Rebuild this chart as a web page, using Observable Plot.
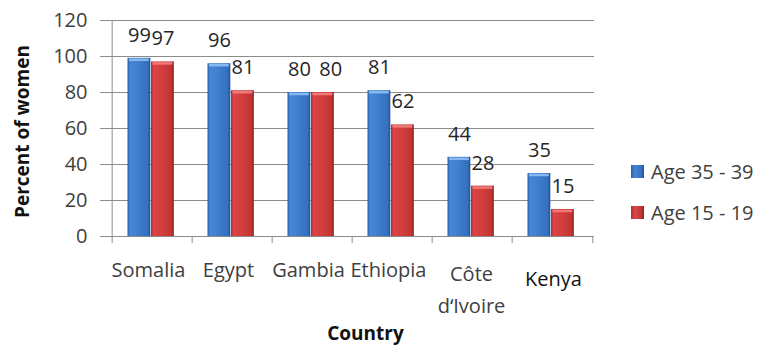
<!DOCTYPE html>
<html>
<head>
<meta charset="utf-8">
<script src="https://cdn.jsdelivr.net/npm/d3@7"></script>
<script src="https://cdn.jsdelivr.net/npm/@observablehq/plot@0.6"></script>
<style>
  html, body { margin: 0; padding: 0; background: #fff; }
  #wrap { position: relative; width: 759px; height: 345px; font-family: "Open Sans", sans-serif; }
  .legend { position: absolute; left: 631px; font-size: 20px; color: #404040; display: flex; align-items: center; white-space: nowrap; }
  .legend .sw { width: 13px; height: 13px; margin-right: 7px; }
</style>
</head>
<body>
<div id="wrap"></div>
<script>
const countries = ["Somalia", "Egypt", "Gambia", "Ethiopia", "Côte d‘Ivoire", "Kenya"];
const tickLabels = ["Somalia", "Egypt", "Gambia", "Ethiopia", "Côte\nd‘Ivoire", "Kenya"];
const age3539 = [99, 96, 80, 81, 44, 35];
const age1519 = [97, 81, 80, 62, 28, 15];
const seriesNames = ["Age 35 - 39", "Age 15 - 19"];
const yTicks = [0, 20, 40, 60, 80, 100, 120];

const rows = countries.map((c, i) => ({country: c, label: tickLabels[i], a: age3539[i], b: age1519[i]}));

const W = 759, H = 345, mL = 110, mR = 165, mT = 20, mB = 109;
const bw = (W - mL - mR) / countries.length;
const grid = "#8c8c8c";
const font = "Open Sans";
const fs = 20;

const single = rows.filter(d => !d.label.includes("\n") && d.country !== "Kenya");
const multi = rows.filter(d => d.label.includes("\n"));
const kenya = rows.filter(d => d.country === "Kenya");
// red labels that would collide with an equal blue label get nudged right
const redPlain = rows.filter(d => d.a !== d.b);
const redNudged = rows.filter(d => d.a === d.b);

const plot = Plot.plot({
  width: W, height: H,
  marginLeft: mL, marginRight: mR, marginTop: mT, marginBottom: mB,
  style: {fontFamily: font, fontSize: fs + "px", background: "#fff"},
  x: {domain: countries, padding: 0, axis: null},
  y: {domain: [0, 120], axis: null},
  marks: [
    Plot.ruleY(yTicks.filter(v => v > 0), {y: d => d, stroke: grid, strokeWidth: 1}),
    Plot.barY(rows, {x: "country", y: "a", insetLeft: 15.5, insetRight: bw - 39, fill: "url(#gBlue)"}),
    Plot.barY(rows, {x: "country", y: "b", insetLeft: 39, insetRight: bw - 62.5, fill: "url(#gRed)"}),
    Plot.tickY(rows, {x: "country", y: "a", insetLeft: 17, insetRight: bw - 37.5, stroke: "#86b9f2", strokeWidth: 2.5, dy: 1.5}),
    Plot.tickY(rows, {x: "country", y: "b", insetLeft: 40.5, insetRight: bw - 61, stroke: "#f07a7a", strokeWidth: 2.5, dy: 1.5}),
    Plot.ruleY([0], {stroke: grid}),
    Plot.ruleX([countries[0]], {x: d => d, y1: 0, y2: 120, dx: -bw / 2, stroke: grid}),
    Plot.ruleX(countries, {x: d => d, y1: 0, y2: -4, dx: -bw / 2, stroke: grid}),
    Plot.ruleX([countries[countries.length - 1]], {x: d => d, y1: 0, y2: -4, dx: bw / 2, stroke: grid}),
    Plot.axisY({ticks: yTicks, tickSize: 10, tickPadding: 13, stroke: grid, fill: "#404040", fontSize: fs, label: null}),
    Plot.text(rows, {x: "country", y: "a", text: d => String(d.a), dx: 27.25 - bw / 2, dy: -23, fill: "#262626", fontSize: fs, lineAnchor: "middle"}),
    Plot.text(redPlain, {x: "country", y: "b", text: d => String(d.b), dx: 50.75 - bw / 2, dy: -23, fill: "#262626", fontSize: fs, lineAnchor: "middle"}),
    Plot.text(redNudged, {x: "country", y: "b", text: d => String(d.b), dx: 58.5 - bw / 2, dy: -23, fill: "#262626", fontSize: fs, lineAnchor: "middle"}),
    Plot.text(single, {x: "country", y: () => 0, text: "label", dx: -4, dy: 34, lineAnchor: "middle", fill: "#404040", fontSize: fs}),
    Plot.text(multi, {x: "country", y: () => 0, text: "label", dx: -1, dy: 50, lineAnchor: "middle", lineHeight: 1.6, fill: "#404040", fontSize: fs}),
    Plot.text(kenya, {x: "country", y: () => 0, text: "label", dx: 1, dy: 43, lineAnchor: "middle", fill: "#111", fontSize: fs}),
    Plot.text(["Percent of women"], {text: d => d, frameAnchor: "left", textAnchor: "middle", lineAnchor: "middle", rotate: -90, dx: -88, dy: 3, fontWeight: "bold", fontSize: 19, fill: "#111"}),
    Plot.text(["Country"], {text: d => d, frameAnchor: "bottom", textAnchor: "middle", lineAnchor: "middle", dx: 13, dy: 97, fontWeight: "bold", fontSize: 19, fill: "#111"})
  ]
});

// gradient definitions for the bevelled bar look
const ns = "http://www.w3.org/2000/svg";
const defs = document.createElementNS(ns, "defs");
function grad(id, stops) {
  const g = document.createElementNS(ns, "linearGradient");
  g.setAttribute("id", id);
  g.setAttribute("x1", "0"); g.setAttribute("x2", "1"); g.setAttribute("y1", "0"); g.setAttribute("y2", "0");
  stops.forEach(([o, c]) => {
    const s = document.createElementNS(ns, "stop");
    s.setAttribute("offset", o); s.setAttribute("stop-color", c);
    g.appendChild(s);
  });
  defs.appendChild(g);
}
grad("gBlue", [["0", "#2c5fa6"], ["0.12", "#4686d4"], ["0.5", "#3e7ecc"], ["0.88", "#3470bf"], ["1", "#22508f"]]);
grad("gRed", [["0", "#a83030"], ["0.12", "#dc4646"], ["0.5", "#d23c3c"], ["0.88", "#c13434"], ["1", "#8a2222"]]);
plot.insertBefore(defs, plot.firstChild);

const wrap = document.getElementById("wrap");
wrap.appendChild(plot);

const legendItems = [
  {name: seriesNames[0], top: 163, bg: "linear-gradient(90deg,#2c5fa6,#4686d4 30%,#3470bf 80%,#22508f)"},
  {name: seriesNames[1], top: 204, bg: "linear-gradient(90deg,#a83030,#dc4646 30%,#c13434 80%,#8a2222)"}
];
legendItems.forEach(it => {
  const d = document.createElement("div");
  d.className = "legend";
  d.style.top = (it.top - 7) + "px";
  d.style.height = "30px";
  const sw = document.createElement("span");
  sw.className = "sw";
  sw.style.background = it.bg;
  const t = document.createElement("span");
  t.textContent = it.name;
  d.appendChild(sw); d.appendChild(t);
  wrap.appendChild(d);
});
</script>
</body>
</html>
